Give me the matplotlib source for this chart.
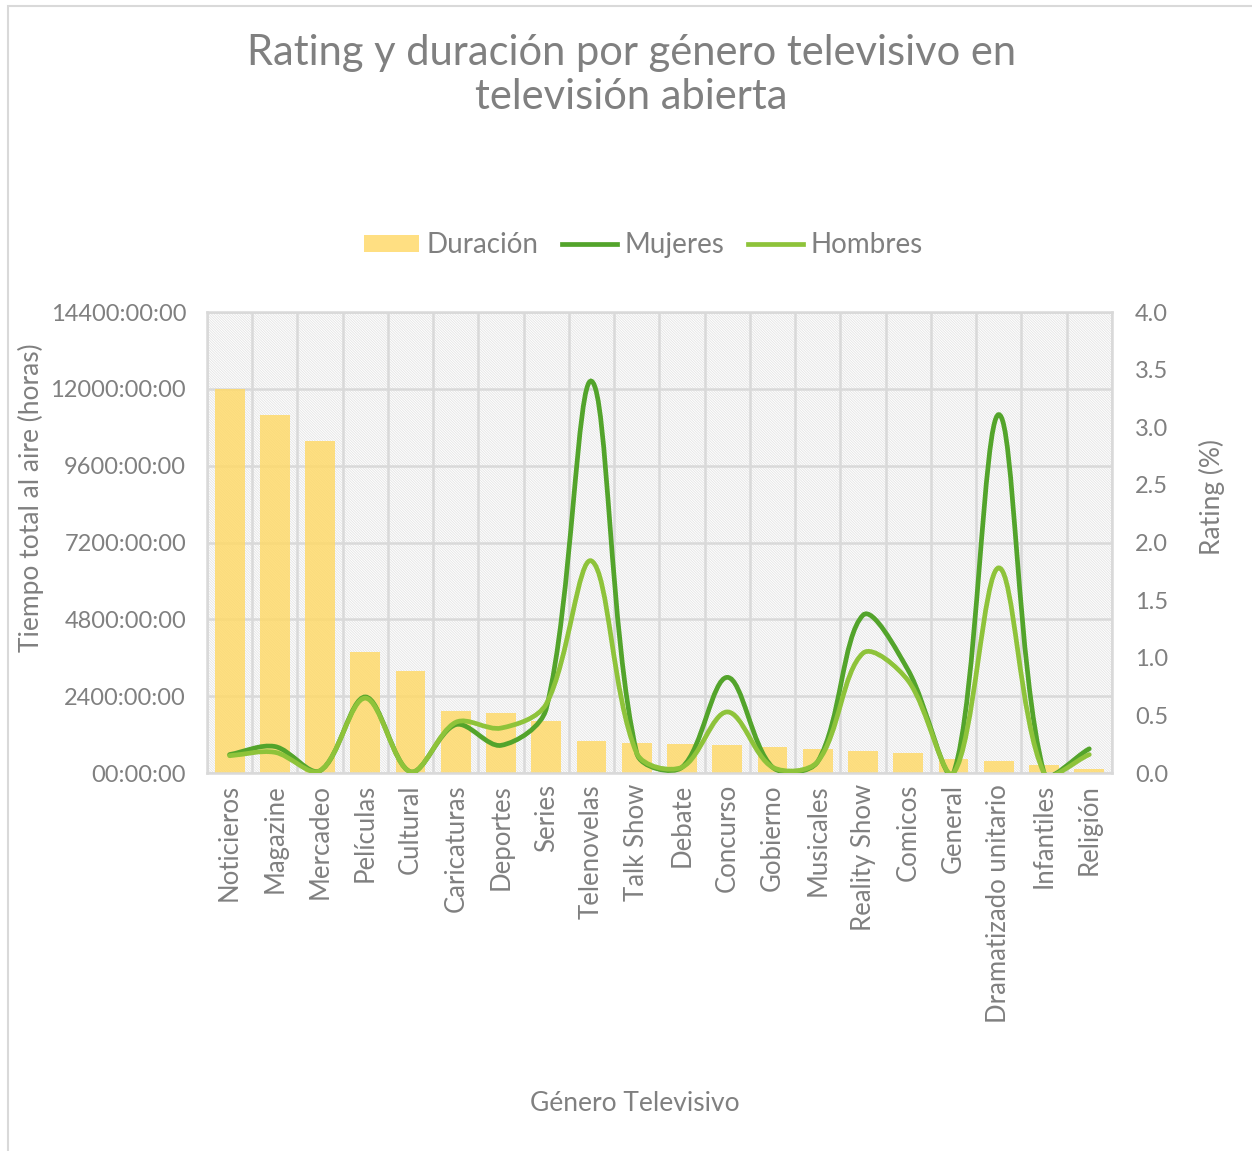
import matplotlib
matplotlib.use("Agg")
import matplotlib.pyplot as plt
import matplotlib.patches as mpatches
from matplotlib.path import Path
from matplotlib.lines import Line2D
import numpy as np

# Datos
generos = [
    "Noticieros", "Magazine", "Mercadeo", "Películas", "Cultural",
    "Caricaturas", "Deportes", "Series", "Telenovelas", "Talk Show",
    "Debate", "Concurso", "Gobierno", "Musicales", "Reality Show",
    "Comicos", "General", "Dramatizado unitario", "Infantiles", "Religión",
]
duracion_horas = [
    12000, 11180, 10370, 3780, 3190, 1940, 1870, 1620, 1000, 940,
    900, 860, 810, 750, 690, 630, 440, 380, 250, 130,
]
rating_mujeres = [
    0.16, 0.23, 0.02, 0.66, 0.01, 0.42, 0.24, 0.56, 3.40, 0.17,
    0.05, 0.83, 0.05, 0.10, 1.37, 0.89, 0.0, 3.11, 0.0, 0.21,
]
rating_hombres = [
    0.15, 0.18, 0.02, 0.65, 0.01, 0.44, 0.39, 0.60, 1.84, 0.17,
    0.05, 0.53, 0.05, 0.10, 1.04, 0.80, 0.0, 1.78, 0.0, 0.16,
]
ticks_horas = [0, 2400, 4800, 7200, 9600, 12000, 14400]
etiquetas_horas = ["00:00:00", "2400:00:00", "4800:00:00", "7200:00:00",
                   "9600:00:00", "12000:00:00", "14400:00:00"]
ticks_rating = [0.0, 0.5, 1.0, 1.5, 2.0, 2.5, 3.0, 3.5, 4.0]

# Colores
GRIS_TEXTO = "#808080"
GRIS_GRID = "#D9D9D9"
COLOR_BARRA = "#FFD966"
COLOR_MUJERES = "#53A42B"
COLOR_HOMBRES = "#8EC33A"

plt.rcParams["font.family"] = ["Lato", "DejaVu Sans"]
plt.rcParams["hatch.color"] = "#E4E4E4"
plt.rcParams["hatch.linewidth"] = 0.6


def curva_suave(xs, ys, sx, sy):
    """Curva suavizada tipo Excel: Bezier con tangentes ponderadas por la
    longitud de los tramos (medida en pixeles, sx/sy = px por unidad)."""
    pts = np.column_stack([xs, ys]).astype(float)
    n = len(pts)
    esc = np.array([sx, sy])
    verts = [tuple(pts[0])]
    codes = [Path.MOVETO]

    def tangente(i):
        a = pts[max(i - 1, 0)]
        b = pts[min(i + 1, n - 1)]
        d1 = np.linalg.norm((pts[i] - a) * esc)
        d2 = np.linalg.norm((b - pts[i]) * esc)
        return (b - a), d1, d2

    for i in range(n - 1):
        t1, d1a, d1b = tangente(i)
        t2, d2a, d2b = tangente(i + 1)
        w1 = d1b / (d1a + d1b) if (d1a + d1b) > 0 else 0.5
        w2 = d2a / (d2a + d2b) if (d2a + d2b) > 0 else 0.5
        c1 = pts[i] + t1 * w1 / 3
        c2 = pts[i + 1] - t2 * w2 / 3
        verts += [tuple(c1), tuple(c2), tuple(pts[i + 1])]
        codes += [Path.CURVE4] * 3
    return Path(verts, codes)


fig = plt.figure(figsize=(12.52, 11.51), dpi=100)
ax = fig.add_axes([0.1653, 0.3284, 0.7228, 0.4005])

x = np.arange(len(generos))

# Fondo rayado
ax.add_patch(mpatches.Rectangle((0, 0), 1, 1, transform=ax.transAxes,
                                facecolor="white", edgecolor="#E4E4E4",
                                hatch="\\" * 13, lw=0, zorder=0))

ax.bar(x, duracion_horas, width=0.66, color=COLOR_BARRA, alpha=0.82,
       zorder=2, label="Duración")

ax.set_xlim(-0.5, len(generos) - 0.5)
ax.set_ylim(0, 14400)
ax.set_yticks(ticks_horas)
ax.set_yticklabels(etiquetas_horas)
ax.set_xticks(x)
ax.set_xticklabels(generos, rotation=90)
ax.set_xticks(np.arange(-0.5, len(generos), 1), minor=True)
ax.grid(True, axis="y", which="major", color=GRIS_GRID, lw=1.8)
ax.grid(True, axis="x", which="minor", color=GRIS_GRID, lw=1.8)
ax.grid(False, axis="x", which="major")
ax.tick_params(axis="y", which="both", length=0, labelsize=17,
               labelcolor=GRIS_TEXTO, pad=15)
ax.tick_params(axis="x", which="both", length=0, labelsize=18.5,
               labelcolor=GRIS_TEXTO, pad=8)
for s in ax.spines.values():
    s.set_color(GRIS_GRID)
    s.set_linewidth(1.8)

ax2 = ax.twinx()
ax2.set_ylim(0, 4.0)
ax2.set_yticks(ticks_rating)
ax2.set_yticklabels([f"{v:.1f}" for v in ticks_rating])
ax2.tick_params(axis="y", length=0, labelsize=17, labelcolor=GRIS_TEXTO, pad=16.5)
for s in ax2.spines.values():
    s.set_visible(False)

# pixeles por unidad en cada eje
px_x = 905 / len(generos)
px_y = 461 / 4.0
for serie, color in [(rating_mujeres, COLOR_MUJERES), (rating_hombres, COLOR_HOMBRES)]:
    ax2.add_patch(mpatches.PathPatch(curva_suave(x, serie, px_x, px_y),
                                     facecolor="none", edgecolor=color, lw=3.4,
                                     capstyle="round", zorder=3))

# Títulos y etiquetas
fig.text(0.5045, 0.935, "Rating y duración por género televisivo en\ntelevisión abierta",
         ha="center", va="center", fontsize=30, color=GRIS_TEXTO, linespacing=1.2)
fig.text(0.025, 0.568, "Tiempo total al aire (horas)", rotation=90,
         ha="center", va="center", fontsize=19, color=GRIS_TEXTO)
fig.text(0.968, 0.568, "Rating (%)", rotation=90,
         ha="center", va="center", fontsize=19, color=GRIS_TEXTO)
fig.text(0.507, 0.0417, "Género Televisivo", ha="center", va="center",
         fontsize=19, color=GRIS_TEXTO)

# Leyenda
handles = [
    mpatches.Patch(facecolor=COLOR_BARRA, alpha=0.82, label="Duración"),
    Line2D([0], [0], color=COLOR_MUJERES, lw=3.4, label="Mujeres"),
    Line2D([0], [0], color=COLOR_HOMBRES, lw=3.4, label="Hombres"),
]
leg = fig.legend(handles=handles, loc="center", bbox_to_anchor=(0.5136, 0.787),
                 ncol=3, frameon=False, fontsize=20, handlelength=2.0,
                 handleheight=0.55, handletextpad=0.25, columnspacing=0.85)
for t in leg.get_texts():
    t.set_color(GRIS_TEXTO)

# Marco exterior
fig.add_artist(mpatches.Rectangle((0.0065, -0.01), 1.1, 1.005,
                                  transform=fig.transFigure, fill=False,
                                  edgecolor="#D9D9D9", lw=1.5))

fig.savefig("out.png", dpi=100, facecolor="white")
